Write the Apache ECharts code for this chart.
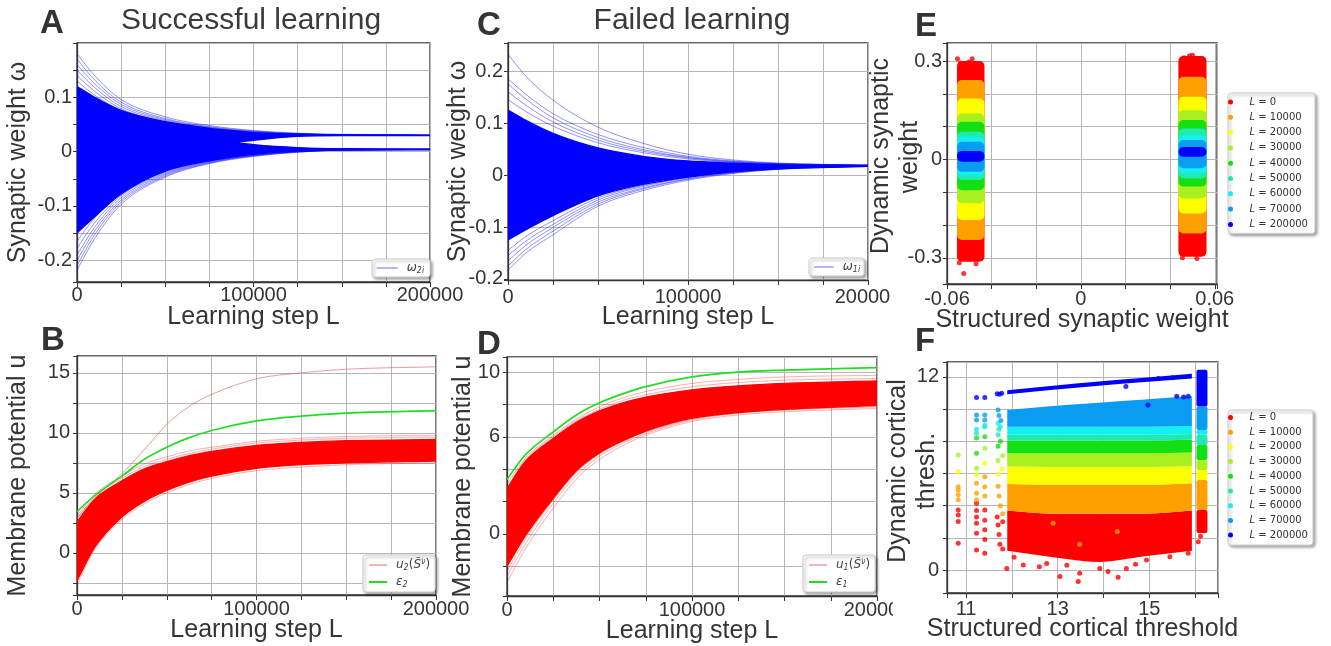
<!DOCTYPE html>
<html><head><meta charset="utf-8">
<script src="https://cdn.jsdelivr.net/npm/echarts@6/dist/echarts.min.js"></script>
<style>html,body{margin:0;padding:0;background:#fff}#c{width:1331px;height:646px}</style>
</head><body><div id="c"></div>
<script>
// ================= DATA =================
const stepLabelVals = [0, 100000, 200000];
const stepLabelText = ['0', '100000', '200000'];

// ---- Panel A (successful learning, synaptic weights) ----
const aLineX = [0, 10000, 25000, 50000, 75000, 100000, 125000, 150000, 200000];
const aUpperLines = [
  [0.180, 0.140, 0.096, 0.064, 0.048, 0.039, 0.034, 0.032, 0.030],
  [0.170, 0.132, 0.091, 0.061, 0.046, 0.038, 0.033, 0.031, 0.030],
  [0.160, 0.125, 0.087, 0.059, 0.045, 0.037, 0.033, 0.031, 0.030],
  [0.150, 0.118, 0.083, 0.057, 0.044, 0.036, 0.033, 0.031, 0.030],
  [0.140, 0.111, 0.079, 0.055, 0.043, 0.036, 0.032, 0.031, 0.030],
  [0.130, 0.104, 0.076, 0.053, 0.042, 0.035, 0.032, 0.031, 0.030]
];
const aLowerLines = [
  [-0.218, -0.160, -0.097, -0.047, -0.022, -0.009, -0.001, 0.003, 0.004],
  [-0.210, -0.153, -0.093, -0.045, -0.021, -0.008, -0.001, 0.003, 0.004],
  [-0.200, -0.146, -0.089, -0.043, -0.020, -0.007, 0.000, 0.003, 0.004],
  [-0.190, -0.139, -0.085, -0.041, -0.019, -0.007, 0.000, 0.003, 0.004],
  [-0.178, -0.131, -0.081, -0.039, -0.018, -0.006, 0.001, 0.003, 0.004],
  [-0.165, -0.122, -0.076, -0.037, -0.017, -0.006, 0.001, 0.003, 0.004]
];
const aBandX = [0, 10000, 25000, 50000, 75000, 90000, 100000, 125000, 150000, 200000];
const aUpperTop = [0.120, 0.100, 0.076, 0.055, 0.043, 0.038, 0.035, 0.032, 0.031, 0.0305];
const aUpperBot = [-0.060, -0.040, -0.020, 0.000, 0.012, 0.017, 0.021, 0.028, 0.0295, 0.0295];
const aLowerTop = [0.090, 0.075, 0.055, 0.036, 0.024, 0.017, 0.013, 0.0075, 0.0055, 0.005];
const aLowerBot = [-0.150, -0.120, -0.078, -0.036, -0.017, -0.009, -0.005, 0.001, 0.003, 0.0035];
const aYLabelVals = [-0.2, -0.1, 0, 0.1];
const aYLabelText = ['-0.2', '-0.1', '0', '0.1'];

// ---- Panel C (failed learning, synaptic weights) ----
const cLineX = [0, 10000, 25000, 50000, 75000, 100000, 125000, 150000, 200000];
const cUpperLines = [
  [0.232, 0.190, 0.144, 0.092, 0.061, 0.040, 0.029, 0.023, 0.019],
  [0.185, 0.155, 0.118, 0.078, 0.053, 0.036, 0.027, 0.022, 0.019],
  [0.175, 0.146, 0.110, 0.072, 0.049, 0.034, 0.026, 0.022, 0.019],
  [0.160, 0.134, 0.102, 0.067, 0.046, 0.033, 0.025, 0.021, 0.018],
  [0.145, 0.122, 0.094, 0.062, 0.043, 0.031, 0.024, 0.021, 0.018]
];
const cLowerLines = [
  [-0.183, -0.150, -0.115, -0.060, -0.030, -0.010, 0.003, 0.011, 0.017],
  [-0.175, -0.143, -0.108, -0.056, -0.027, -0.008, 0.004, 0.011, 0.017],
  [-0.165, -0.135, -0.101, -0.052, -0.025, -0.007, 0.005, 0.012, 0.017],
  [-0.155, -0.127, -0.095, -0.048, -0.022, -0.005, 0.006, 0.012, 0.017],
  [-0.145, -0.118, -0.088, -0.044, -0.020, -0.004, 0.007, 0.013, 0.017]
];
const cCoreTop = [0.125, 0.105, 0.080, 0.052, 0.036, 0.027, 0.023, 0.020, 0.0185];
const cCoreBot = [-0.125, -0.105, -0.078, -0.040, -0.018, -0.004, 0.006, 0.012, 0.0165];
const cYLabelVals = [-0.2, -0.1, 0, 0.1, 0.2];
const cYLabelText = ['-0.2', '-0.1', '0', '0.1', '0.2'];

// ---- Panel B (successful learning, membrane potential) ----
const uX = [0, 10000, 25000, 37500, 50000, 62500, 75000, 100000, 125000, 150000, 200000];
const bEps2 = [3.45, 4.8, 6.4, 7.8, 8.8, 9.6, 10.2, 11.0, 11.4, 11.65, 11.85];
const bOutlier = [2.9, 4.6, 6.6, 8.6, 10.7, 12.2, 13.2, 14.5, 15.0, 15.3, 15.5];
const bCoreTop = [2.6, 4.5, 6.0, 7.0, 7.6, 8.1, 8.45, 8.95, 9.2, 9.35, 9.45];
const bCoreBot = [-2.3, 0.5, 3.0, 4.3, 5.2, 5.9, 6.4, 7.05, 7.35, 7.5, 7.65];
const bEdgeLines = [
  [3.1, 4.9, 6.4, 7.4, 8.0, 8.5, 8.8, 9.3, 9.55, 9.7, 9.8],
  [2.9, 4.7, 6.2, 7.2, 7.8, 8.3, 8.65, 9.15, 9.4, 9.55, 9.65],
  [-2.6, 0.3, 2.8, 4.1, 5.0, 5.7, 6.2, 6.85, 7.15, 7.35, 7.5],
  [-2.0, 0.8, 3.2, 4.4, 5.3, 6.0, 6.5, 7.1, 7.4, 7.55, 7.7]
];
const bYLabelVals = [0, 5, 10, 15];
const bYLabelText = ['0', '5', '10', '15'];

// ---- Panel D (failed learning, membrane potential) ----
const dEps1 = [3.37, 4.9, 6.3, 7.35, 8.1, 8.65, 9.1, 9.7, 10.0, 10.12, 10.27];
const dCoreTop = [2.8, 4.5, 5.9, 6.9, 7.6, 8.1, 8.45, 8.9, 9.15, 9.3, 9.45];
const dCoreBot = [-2.0, -0.1, 2.2, 3.9, 5.0, 5.75, 6.35, 7.15, 7.5, 7.7, 7.95];
const dEdgeLines = [
  [3.1, 4.7, 6.1, 7.1, 7.85, 8.4, 8.8, 9.3, 9.55, 9.7, 9.8],
  [2.9, 4.6, 6.0, 7.0, 7.7, 8.25, 8.6, 9.1, 9.35, 9.5, 9.6],
  [-3.0, -0.9, 1.6, 3.4, 4.6, 5.45, 6.1, 6.95, 7.35, 7.55, 7.75],
  [-2.6, -0.6, 1.9, 3.6, 4.8, 5.6, 6.2, 7.05, 7.45, 7.65, 7.85],
  [-2.3, -0.3, 2.1, 3.8, 4.95, 5.7, 6.3, 7.1, 7.5, 7.7, 7.9]
];
const dYLabelVals = [0, 6, 10];
const dYLabelText = ['0', '6', '10'];

// ---- Levels for E and F ----
const levelNames = ['L = 0', 'L = 10000', 'L = 20000', 'L = 30000', 'L = 40000',
                    'L = 50000', 'L = 60000', 'L = 70000', 'L = 200000'];

// ---- Panel E (dynamic vs structured synaptic weight) ----
const eLeftX = [-0.0555, -0.0432];
const eRightX = [0.0437, 0.0563];
const eLeftTop = [0.300, 0.242, 0.186, 0.140, 0.115, 0.084, 0.069, 0.054, 0.026];
const eLeftBot = [-0.312, -0.246, -0.185, -0.134, -0.094, -0.063, -0.048, -0.038, -0.007];
const eRightTop = [0.315, 0.252, 0.191, 0.150, 0.120, 0.094, 0.074, 0.059, 0.038];
const eRightBot = [-0.297, -0.226, -0.165, -0.119, -0.083, -0.058, -0.043, -0.027, 0.008];
const eRedDots = [[-0.0525, -0.348], [-0.0553, 0.307], [-0.0487, 0.307], [-0.0503, 0.297],
  [-0.0540, 0.294], [0.0487, 0.316], [0.0500, 0.318], [0.0463, 0.310], [-0.0470, -0.318],
  [-0.0545, -0.315], [0.0455, -0.300], [0.0520, -0.302]];
const eXLabelVals = [-0.06, 0, 0.06];
const eXLabelText = ['-0.06', '0', '0.06'];
const eYLabelVals = [-0.3, 0, 0.3];
const eYLabelText = ['-0.3', '0', '0.3'];

// ---- Panel F (dynamic vs structured cortical threshold) ----
const fMainX = [11.9, 12.9, 13.9, 14.9, 15.93];
const fMainBot = [
  [1.2, 0.8, 0.5, 0.85, 1.2], [3.7, 3.5, 3.5, 3.5, 3.7], [5.35, 5.3, 5.3, 5.3, 5.4],
  [6.45, 6.4, 6.4, 6.4, 6.45], [7.25, 7.25, 7.25, 7.25, 7.3], [8.05, 8.05, 8.05, 8.05, 8.1],
  [8.4, 8.4, 8.4, 8.4, 8.45], [8.9, 8.9, 8.9, 8.9, 8.95], [10.93, 11.2, 11.45, 11.68, 11.9]];
const fMainTop = [
  [3.7, 3.5, 3.5, 3.5, 3.7], [5.35, 5.3, 5.3, 5.3, 5.4], [6.45, 6.4, 6.4, 6.4, 6.45],
  [7.25, 7.25, 7.25, 7.25, 7.3], [8.05, 8.05, 8.05, 8.05, 8.1], [8.4, 8.4, 8.4, 8.4, 8.45],
  [8.9, 8.9, 8.9, 8.9, 8.95], [9.95, 10.2, 10.4, 10.6, 10.8], [11.17, 11.45, 11.72, 11.95, 12.2]];
const fColX = [16.03, 16.27];
const fColBot = [2.3, 3.73, 5.6, 6.22, 6.84, 7.77, 8.4, 8.7, 10.16];
const fColTop = [3.73, 5.6, 6.22, 6.84, 7.77, 8.4, 8.7, 10.16, 12.45];
const fDots = [
  [[10.83,3.73],[10.83,3.42],[10.83,3.01],[10.83,1.66],[11.23,4.15],[11.23,3.7],[11.23,3.3],[11.23,2.9],
   [11.23,2.28],[11.23,1.24],[11.41,3.73],[11.41,3.1],[11.41,2.5],[11.41,1.9],[11.41,1.04],[11.68,3.3],
   [11.7,2.8],[11.72,2.2],[11.74,1.6],[11.8,3.0],[11.8,1.3],[11.89,0.1],[12.25,0.31],[12.76,0.41],
   [13.05,-0.41],[13.45,-0.72],[13.48,-0.2],[13.92,0.1],[14.1,-0.1],[14.32,-0.45],[14.5,0.1],[14.94,0.62],
   [15.45,0.83],[15.85,1.04],[16.07,1.76],[16.12,2.1],[12.05,0.8],[12.6,0.2],[13.2,0.3],[14.7,0.35]],
  [[10.83,5.18],[10.83,4.97],[10.83,4.67],[10.83,4.36],[11.23,5.39],[11.23,4.77],[11.23,4.36],[11.41,5.8],
   [11.41,5.18],[11.41,4.6],[11.7,5.2],[11.72,4.6],[11.75,4.0],[11.8,3.5],[13.48,1.6],[14.3,2.4],[12.9,2.9]],
  [[10.83,6.12],[11.23,5.9],[11.41,6.63],[11.7,5.97],[11.78,6.3]],
  [[10.83,7.15],[11.23,6.32],[11.41,7.57],[11.7,6.8],[11.8,7.1]],
  [[11.23,8.2],[11.23,7.26],[11.41,8.29],[11.7,7.7],[11.75,8.0]],
  [[11.23,8.5],[11.41,8.91],[11.7,8.4],[11.72,8.75]],
  [[11.23,8.75],[11.41,9.0],[11.7,9.1],[11.75,8.9]],
  [[11.23,9.64],[11.23,9.33],[11.41,9.64],[11.41,9.33],[11.7,9.95],[11.72,9.6],[11.76,9.3]],
  [[11.23,10.72],[11.41,10.72],[11.68,10.95],[11.73,10.93],[11.78,10.98],[14.49,11.4],[14.97,10.26],
   [15.6,10.8],[15.75,10.75],[15.85,10.8],[15.5,11.95],[15.2,11.9]]
];
const fXLabelVals = [11, 13, 15];
const fXLabelText = ['11', '13', '15'];
const fYLabelVals = [0, 12];
const fYLabelText = ['0', '12'];

// ================= STYLE =================
const FONT = '"Liberation Sans", Arial, Helvetica, sans-serif';
const MATH = '"DejaVu Sans", sans-serif';
const INK = '#353535';
const GRIDC = '#b6b6b6';
const LEVEL_COLORS = ['#ff0000', '#ffa000', '#ffff00', '#a8f020', '#12e012',
                      '#22e8b2', '#12f0f0', '#0a9cf2', '#0000ff'];
const BLUE = '#0000ff', RED = '#ff0000', GREEN = '#22dd22';

function fmt(vals, texts) {
  return v => { const i = vals.findIndex(t => Math.abs(t - v) < 1e-7 * Math.max(1, Math.abs(t))); return i >= 0 ? texts[i] : ''; };
}
function xAx(gi, o) {
  return {
    type: 'value', gridIndex: gi, min: o.min, max: o.max, interval: o.interval, splitNumber: o.splitNumber,
    axisLine: {show: true, onZero: false, lineStyle: {color: INK, width: 1.3}},
    axisTick: {show: true, inside: false, length: 5, lineStyle: {color: INK, width: 1}},
    axisLabel: {show: true, margin: o.margin, fontSize: 20, color: INK, fontFamily: FONT,
                formatter: fmt(o.vals, o.texts), hideOverlap: false, showMinLabel: true, showMaxLabel: true},
    splitLine: {show: true, lineStyle: {color: GRIDC, width: 1}},
    name: o.name, nameLocation: 'middle', nameGap: o.nameGap, nameMoveOverlap: false,
    nameTextStyle: {fontSize: 25, color: INK, fontFamily: FONT}
  };
}
function yAx(gi, o) {
  const ax = {
    type: 'value', gridIndex: gi, min: o.min, max: o.max, splitNumber: o.splitNumber,
    axisLine: {show: true, onZero: false, lineStyle: {color: INK, width: 1.3}},
    axisTick: {show: true, inside: false, length: 4, lineStyle: {color: INK, width: 1}},
    axisLabel: {show: true, margin: o.margin, fontSize: 20, color: INK, fontFamily: FONT,
                formatter: fmt(o.vals, o.texts), hideOverlap: false, showMinLabel: true, showMaxLabel: true},
    splitLine: {show: true, lineStyle: {color: GRIDC, width: 1}},
    name: o.name || '', nameLocation: 'middle', nameGap: o.nameGap || 0, nameMoveOverlap: false,
    nameTextStyle: {fontSize: 25, color: INK, fontFamily: FONT}
  };
  if (o.minor) {
    ax.minorTick = {show: true, splitNumber: 2, length: 4, lineStyle: {color: INK, width: 1}};
    ax.minorSplitLine = {show: true, lineStyle: {color: GRIDC, width: 1}};
  }
  return ax;
}

// monotone cubic control points in pixel space (drawing helper only)
function monoCtrl(P) {
  const n = P.length, m = [], t = new Array(n);
  for (let i = 0; i < n - 1; i++) m.push((P[i + 1][1] - P[i][1]) / (P[i + 1][0] - P[i][0]));
  t[0] = m[0]; t[n - 1] = m[n - 2];
  for (let i = 1; i < n - 1; i++) t[i] = (m[i - 1] * m[i] <= 0) ? 0 : (m[i - 1] + m[i]) / 2;
  for (let i = 0; i < n - 1; i++) {
    if (m[i] === 0) { t[i] = 0; t[i + 1] = 0; continue; }
    const a = t[i] / m[i], b = t[i + 1] / m[i], s = a * a + b * b;
    if (s > 9) { const k = 3 / Math.sqrt(s); t[i] = k * a * m[i]; t[i + 1] = k * b * m[i]; }
  }
  const segs = [];
  for (let i = 0; i < n - 1; i++) {
    const h = (P[i + 1][0] - P[i][0]) / 3;
    segs.push([[P[i][0] + h, P[i][1] + t[i] * h], [P[i + 1][0] - h, P[i + 1][1] - t[i + 1] * h]]);
  }
  return segs;
}
function linePath(P) {
  const s = monoCtrl(P);
  let d = 'M' + P[0][0] + ',' + P[0][1];
  s.forEach((c, i) => { d += 'C' + c[0][0] + ',' + c[0][1] + ',' + c[1][0] + ',' + c[1][1] + ',' + P[i + 1][0] + ',' + P[i + 1][1]; });
  return d;
}
function bandPath(T, B) {
  const sb = monoCtrl(B), n = B.length;
  let d = linePath(T);
  d += 'L' + B[n - 1][0] + ',' + B[n - 1][1];
  for (let i = n - 2; i >= 0; i--) {
    const c = sb[i];
    d += 'C' + c[1][0] + ',' + c[1][1] + ',' + c[0][0] + ',' + c[0][1] + ',' + B[i][0] + ',' + B[i][1];
  }
  return d + 'Z';
}

// ================= SERIES =================
const series = [];
const pts = (xs, ys) => xs.map((x, i) => [x, ys[i]]);
function addLine(gi, xs, ys, st) {
  series.push({type: 'custom', xAxisIndex: gi, yAxisIndex: gi, silent: true, clip: true, z: 3,
    data: pts(xs, ys),
    renderItem: (params, api) => {
      if (params.dataIndexInside !== 0) return null;
      const P = [];
      for (let j = 0; j < params.dataInsideLength; j++) P.push(api.coord([api.value(0, j), api.value(1, j)]));
      return {type: 'path', shape: {pathData: linePath(P)},
              style: {fill: 'none', stroke: st.color, lineWidth: st.width, opacity: st.opacity == null ? 1 : st.opacity}};
    }});
}
function addBand(gi, xs, lo, hi, color) {
  series.push({type: 'custom', xAxisIndex: gi, yAxisIndex: gi, silent: true, clip: true, z: 2,
    data: xs.map((x, i) => [x, lo[i], hi[i]]),
    renderItem: (params, api) => {
      if (params.dataIndexInside !== 0) return null;
      const T = [], B = [];
      for (let j = 0; j < params.dataInsideLength; j++) {
        const x = api.value(0, j);
        T.push(api.coord([x, api.value(2, j)]));
        B.push(api.coord([x, api.value(1, j)]));
      }
      return {type: 'path', shape: {pathData: bandPath(T, B)},
              style: {fill: color, stroke: color, lineWidth: 1.3}};
    }});
}
// legend-only entries (line icons)
function addLegendEntry(gi, name, st) {
  series.push({type: 'line', name, xAxisIndex: gi, yAxisIndex: gi, data: [], symbol: 'none', silent: true,
               lineStyle: st});
}
const thinBlue = {color: BLUE, width: 0.8, opacity: 0.55};
const thinRed = {color: RED, width: 0.8, opacity: 0.4};

// A (grid 0)
addBand(0, aBandX, aLowerBot, aLowerTop, BLUE);
addBand(0, aBandX, aUpperBot, aUpperTop, BLUE);
aUpperLines.forEach(l => addLine(0, aLineX, l, thinBlue));
aLowerLines.forEach(l => addLine(0, aLineX, l, thinBlue));
addLegendEntry(0, 'w2i', thinBlue);
// C (grid 1)
addBand(1, cLineX, cCoreBot, cCoreTop, BLUE);
cUpperLines.forEach(l => addLine(1, cLineX, l, thinBlue));
cLowerLines.forEach(l => addLine(1, cLineX, l, thinBlue));
addLegendEntry(1, 'w1i', thinBlue);
// B (grid 3)
addBand(3, uX, bCoreBot, bCoreTop, RED);
bEdgeLines.forEach(l => addLine(3, uX, l, thinRed));
addLine(3, uX, bOutlier, {color: '#e05a5a', width: 1, opacity: 0.6});
addLine(3, uX, bEps2, {color: GREEN, width: 1.7});
addLegendEntry(3, 'u2', thinRed);
addLegendEntry(3, 'e2', {color: GREEN, width: 1.7});
// D (grid 4)
addBand(4, uX, dCoreBot, dCoreTop, RED);
dEdgeLines.forEach(l => addLine(4, uX, l, thinRed));
addLine(4, uX, dEps1, {color: GREEN, width: 1.7});
addLegendEntry(4, 'u1', thinRed);
addLegendEntry(4, 'e1', {color: GREEN, width: 1.7});

// E (grid 2)
levelNames.forEach((nm, k) => {
  const col = LEVEL_COLORS[k];
  series.push({type: 'custom', name: nm, xAxisIndex: 2, yAxisIndex: 2, silent: true, clip: true,
    itemStyle: {color: col},
    data: [[eLeftX[0], eLeftX[1], eLeftBot[k], eLeftTop[k]], [eRightX[0], eRightX[1], eRightBot[k], eRightTop[k]]],
    renderItem: (p, api) => {
      const a = api.coord([api.value(0), api.value(3)]);
      const b = api.coord([api.value(1), api.value(2)]);
      return {type: 'rect', shape: {x: a[0], y: a[1], width: b[0] - a[0], height: b[1] - a[1], r: 5}, style: {fill: col}};
    }});
});
series.push({type: 'scatter', name: levelNames[0], xAxisIndex: 2, yAxisIndex: 2, data: eRedDots,
  symbolSize: 5, silent: true, itemStyle: {color: LEVEL_COLORS[0]}});

// F (grid 5)
levelNames.forEach((nm, k) => {
  const col = LEVEL_COLORS[k];
  series.push({type: 'custom', name: nm, xAxisIndex: 5, yAxisIndex: 5, silent: true, clip: true,
    itemStyle: {color: col},
    data: fMainX.map((x, j) => [x, fMainBot[k][j], fMainTop[k][j]]),
    renderItem: (params, api) => {
      if (params.dataIndexInside !== 0) return null;
      const T = [], B = [];
      for (let j = 0; j < params.dataInsideLength; j++) {
        const x = api.value(0, j);
        T.push(api.coord([x, api.value(2, j)]));
        B.push(api.coord([x, api.value(1, j)]));
      }
      return {type: 'path', shape: {pathData: bandPath(T, B)}, style: {fill: col}};
    }});
  series.push({type: 'custom', name: nm, xAxisIndex: 5, yAxisIndex: 5, silent: true, clip: true,
    itemStyle: {color: col},
    data: [[fColX[0], fColX[1], fColBot[k], fColTop[k]]],
    renderItem: (p, api) => {
      const a = api.coord([api.value(0), api.value(3)]);
      const b = api.coord([api.value(1), api.value(2)]);
      return {type: 'rect', shape: {x: a[0], y: a[1], width: b[0] - a[0], height: b[1] - a[1], r: 2}, style: {fill: col}};
    }});
});
levelNames.forEach((nm, k) => {
  series.push({type: 'scatter', name: nm, xAxisIndex: 5, yAxisIndex: 5, data: fDots[k],
    symbolSize: 5, silent: true, itemStyle: {color: LEVEL_COLORS[k]}, z: 3});
});

// ================= LEGENDS =================
const richMath = {
  sp: {width: 4},
  it: {fontFamily: MATH, fontStyle: 'italic', fontSize: 12, lineHeight: 14, color: '#444'},
  n: {fontFamily: MATH, fontSize: 12, lineHeight: 14, color: '#444'},
  sub: {fontFamily: MATH, fontStyle: 'italic', fontSize: 8, lineHeight: 8, verticalAlign: 'bottom', color: '#444'},
  sup: {fontFamily: MATH, fontStyle: 'italic', fontSize: 8, lineHeight: 8, verticalAlign: 'top', color: '#444'}
};
const legendText = {
  w2i: '{sp| }{it|ω}{sub|2i}', w1i: '{sp| }{it|ω}{sub|1i}',
  u2: '{sp| }{it|u}{sub|2}{n|(}{it|S\u0303}{sup|ν}{n|)}', e2: '{sp| }{it|ε}{sub|2}',
  u1: '{sp| }{it|u}{sub|1}{n|(}{it|S\u0303}{sup|ν}{n|)}', e1: '{sp| }{it|ε}{sub|1}'
};
const legendLine = {
  w2i: {color: '#9c9cf0', width: 1.5, opacity: 1}, w1i: {color: '#9c9cf0', width: 1.5, opacity: 1},
  u2: {color: '#eaa0a0', width: 1.5, opacity: 1}, u1: {color: '#eaa0a0', width: 1.5, opacity: 1},
  e2: {color: GREEN, width: 2, opacity: 1}, e1: {color: GREEN, width: 2, opacity: 1}
};
const boxStyle = {backgroundColor: '#fff', borderColor: '#cfcfcf', borderWidth: 1, borderRadius: 3,
  shadowBlur: 3, shadowColor: 'rgba(0,0,0,0.35)', shadowOffsetX: 2, shadowOffsetY: 2};
function lineLegend(names, left, top, padding, itemWidth, gap) {
  return Object.assign({
    data: names.map(n => ({name: n, itemStyle: {opacity: 0, borderWidth: 0}, lineStyle: legendLine[n]})),
    left, top, orient: 'vertical', padding, itemWidth, itemHeight: 8, itemGap: gap,
    selectedMode: false, formatter: n => legendText[n],
    textStyle: {fontFamily: MATH, fontSize: 12, lineHeight: 14, color: '#444', rich: richMath}
  }, boxStyle);
}
function levelLegend(left, top, padding, gap) {
  return Object.assign({
    data: levelNames.map(n => ({name: n, icon: 'circle'})),
    left, top, orient: 'vertical', padding, itemWidth: 28, itemHeight: 5, itemGap: gap,
    selectedMode: false, formatter: n => n.replace('L', '{it|L}'),
    textStyle: {fontFamily: MATH, fontSize: 10, lineHeight: 12, color: '#333',
      rich: {it: {fontFamily: MATH, fontStyle: 'italic', fontSize: 10, lineHeight: 12, color: '#333'}}}
  }, boxStyle);
}

// ================= OPTION =================
const gridPos = [
  {left: 77, top: 43, width: 353, height: 239},   // A
  {left: 508, top: 43, width: 360, height: 237},  // C
  {left: 947, top: 43, width: 270, height: 241},  // E
  {left: 77, top: 356, width: 359, height: 239},  // B
  {left: 507, top: 357, width: 370, height: 239}, // D
  {left: 947, top: 362, width: 271, height: 231}  // F
];
const stepAxis = (gi, margin, nameGap) => xAx(gi, {min: 0, max: 200000, interval: 25000, margin,
  vals: stepLabelVals, texts: stepLabelText, name: 'Learning step L', nameGap});

const letter = (t, x, y) => ({type: 'text', x, y, z: 50, style: {text: t, fontSize: 33, fontWeight: 'bold',
  fontFamily: FONT, fill: '#333', verticalAlign: 'middle'}});
const title = (t, x, y) => ({type: 'text', x, y, z: 50, style: {text: t, fontSize: 30, fontFamily: FONT,
  fill: '#3a3a3a', align: 'center', verticalAlign: 'middle'}});
const vname = (t, x, y) => ({type: 'text', x, y, rotation: Math.PI / 2, z: 50, style: {text: t, fontSize: 25,
  fontFamily: FONT, fill: INK, align: 'center', verticalAlign: 'middle'}});

const option = {
  animation: false,
  backgroundColor: '#fff',
  grid: gridPos.map(g => Object.assign({show: true, borderColor: INK, borderWidth: 1.3,
    backgroundColor: '#fff', containLabel: false, outerBoundsMode: 'none'}, g)),
  xAxis: [
    stepAxis(0, 3, 23),
    stepAxis(1, 7, 24.5),
    xAx(2, {min: -0.06, max: 0.061, interval: 0.02, margin: 5, vals: eXLabelVals, texts: eXLabelText,
            name: 'Structured synaptic weight', nameGap: 24}),
    stepAxis(3, 4, 23),
    stepAxis(4, 4, 22.5),
    xAx(5, {min: 10.585, max: 16.5, splitNumber: 5, margin: 6, vals: fXLabelVals, texts: fXLabelText,
            name: 'Structured cortical threshold', nameGap: 23.5})
  ],
  yAxis: [
    yAx(0, {min: -0.24, max: 0.2, splitNumber: 5, minor: true, margin: 5, vals: aYLabelVals, texts: aYLabelText,
            name: 'Synaptic weight ω', nameGap: 46}),
    yAx(1, {min: -0.202, max: 0.254, splitNumber: 5, margin: 5, vals: cYLabelVals, texts: cYLabelText,
            name: 'Synaptic weight ω', nameGap: 37}),
    yAx(2, {min: -0.38, max: 0.355, splitNumber: 5, margin: 5, vals: eYLabelVals, texts: eYLabelText}),
    yAx(3, {min: -3.5, max: 16.4, splitNumber: 4, minor: true, margin: 7, vals: bYLabelVals, texts: bYLabelText,
            name: 'Membrane potential u', nameGap: 46}),
    yAx(4, {min: -3.83, max: 10.93, splitNumber: 7, margin: 7, vals: dYLabelVals, texts: dYLabelText,
            name: 'Membrane potential u', nameGap: 31}),
    yAx(5, {min: -1.43, max: 12.93, splitNumber: 7, margin: 8, vals: fYLabelVals, texts: fYLabelText})
  ],
  legend: [
    lineLegend(['w2i'], 372, 259, [2, 6, 2, 4], 21, 4),
    lineLegend(['w1i'], 809, 258, [2, 4, 2, 4], 20, 4),
    lineLegend(['u2', 'e2'], 363, 555, [3, 5, 3, 5], 18, 3),
    lineLegend(['u1', 'e1'], 803, 555, [3, 5, 3, 5], 18, 3),
    levelLegend(1228, 93, [3, 7, 3, 0], 3.3),
    levelLegend(1228, 410, [1.5, 5, 4, 0], 2.7)
  ],
  graphic: [
    letter('A', 40, 24), letter('B', 41, 341), letter('C', 477, 26),
    letter('D', 477, 345), letter('E', 915, 27), letter('F', 915, 342),
    title('Successful learning', 251, 21), title('Failed learning', 692, 21),
    vname('Dynamic synaptic', 881, 156), vname('weight', 910, 157),
    vname('Dynamic cortical', 898, 471), vname('thresh.', 927, 471),
    {type: 'rect', z: 100, shape: {x: 890, y: 284, width: 20, height: 25}, style: {fill: '#fff'}},
    {type: 'rect', z: 100, shape: {x: 893, y: 598, width: 20, height: 24}, style: {fill: '#fff'}}
  ],
  series
};
const chart = echarts.init(document.getElementById('c'), null, {renderer: 'canvas'});
chart.setOption(option);
</script>
</body></html>
